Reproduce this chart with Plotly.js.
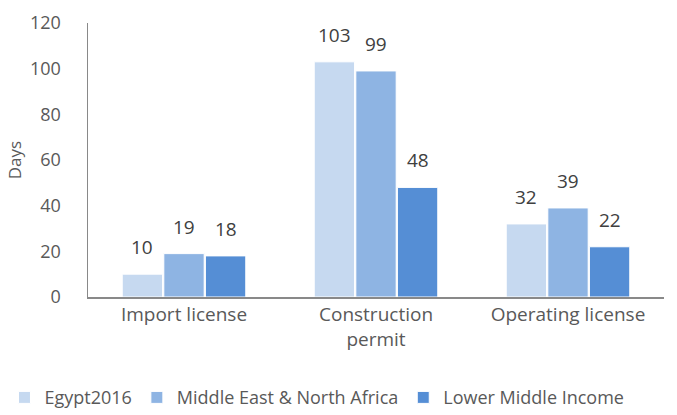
<!DOCTYPE html>
<html>
<head>
<meta charset="utf-8">
<script src="https://cdn.plot.ly/plotly-3.0.1.min.js"></script>
<style>html,body{margin:0;padding:0;background:#fff;}#chart{width:677px;height:415px;}</style>
</head>
<body>
<div id="chart"></div>
<script>
const categories = ["Import license", "Construction<br>permit", "Operating license"];
const seriesNames = ["Egypt2016", "Middle East & North Africa", "Lower Middle Income"];
const egypt = [10, 103, 32];
const mena = [19, 99, 39];
const lmi = [18, 48, 22];
const yTicks = [0, 20, 40, 60, 80, 100, 120];
const colors = ["#c6d9f0", "#8eb4e3", "#558ed5"];

const font = "Open Sans, Liberation Sans, sans-serif";
const allSeries = [egypt, mena, lmi];
const data = allSeries.map((vals, i) => ({
  type: "bar",
  name: seriesNames[i],
  x: categories,
  y: vals,
  marker: {color: colors[i], line: {color: "#ffffff", width: 1}},
  hoverinfo: "skip"
}));

// Value labels placed above each bar (offset per series within a group)
const slot = 192 * 0.65 / 3;
const annotations = [];
allSeries.forEach((vals, i) => {
  vals.forEach((v, j) => {
    annotations.push({
      x: categories[j], y: v, xref: "x", yref: "y",
      text: String(v), showarrow: false,
      xanchor: "center", yanchor: "bottom",
      xshift: (i - 1) * slot, yshift: 12,
      font: {family: font, size: 19, color: "#404040"}
    });
  });
});

const layout = {
  width: 677, height: 415,
  margin: {l: 88, r: 13, t: 23, b: 118, autoexpand: false},
  paper_bgcolor: "#ffffff", plot_bgcolor: "#ffffff",
  barmode: "group",
  bargap: 0.35,
  bargroupgap: 0.03,
  font: {family: font, color: "#595959", size: 18},
  annotations: annotations,
  xaxis: {
    showline: true, linecolor: "#898989", linewidth: 1.5,
    tickfont: {family: font, size: 19, color: "#595959"},
    ticks: "", showgrid: false, zeroline: false, automargin: false
  },
  yaxis: {
    range: [0, 120], tickvals: yTicks, ticktext: yTicks.map(String),
    showline: true, linecolor: "#898989", linewidth: 1.5,
    showgrid: false, zeroline: false, ticks: "", automargin: false,
    ticklabelstandoff: 22,
    tickfont: {family: font, size: 18, color: "#595959"},
    title: {text: "Days", font: {family: font, size: 17, color: "#595959"}, standoff: 4}
  },
  legend: {
    orientation: "h", x: -0.145, xanchor: "left", y: -0.30, yanchor: "top",
    font: {family: font, size: 18, color: "#595959"},
    itemwidth: 30, tracegroupgap: 0, traceorder: "normal"
  },
  showlegend: true
};

Plotly.newPlot("chart", data, layout, {staticPlot: true, displayModeBar: false});
</script>
</body>
</html>
